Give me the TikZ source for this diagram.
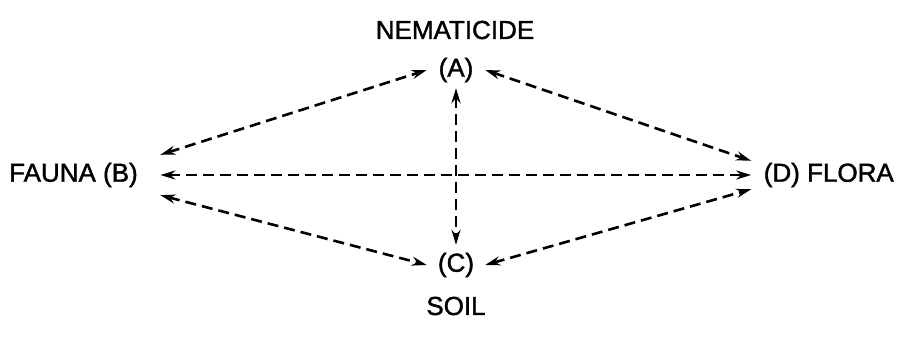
\documentclass[tikz,border=0pt]{standalone}
\usepackage{fontspec}
\setmainfont{Liberation Sans}[FakeBold=1.5, AutoFakeBold=1.5]
\usetikzlibrary{arrows.meta}

\begin{document}
\begin{tikzpicture}[x=1pt, y=-1pt,
        lbl/.style={font=\fontsize{26}{30}\selectfont\bfseries, inner sep=0pt},
        link/.style={{Stealth[length=15pt,width=9pt]}-{Stealth[length=15pt,width=9pt]},
                     line width=2.6pt, dash pattern=on 11pt off 6pt}]

    \useasboundingbox (0,0) rectangle (902,347);

    \node[lbl] (nem) at (455,30) {NEMATICIDE};
    \node[lbl, minimum width=58pt, minimum height=36pt] (A) at (456,70) {(A)};
    \node[lbl, minimum height=40pt, anchor=west, inner xsep=0pt] (Btxt) at (9,175) {FAUNA (B)};
    \node[lbl, minimum height=40pt, minimum width=22pt, anchor=west] (B) at (Btxt.east) {};
    \node[lbl, minimum height=28pt, anchor=east] (Dtxt) at (894,175) {(D) FLORA};
    \node[lbl, minimum height=28pt, minimum width=12pt, anchor=east] (D) at (Dtxt.west) {};
    \node[lbl, minimum width=58pt, minimum height=40pt] (C) at (456,265) {(C)};
    \node[lbl] (soil) at (456,306) {SOIL};

    \draw[link] (B.north east) -- (A.west);
    \draw[link] (A.east) -- (D.north west);
    \draw[link] (A.south) -- (C.north);
    \draw[link] (B.east) -- (D.west);
    \draw[link] (B.south east) -- (C.west);
    \draw[link] (C.east) -- (D.south west);

\end{tikzpicture}
\end{document}
